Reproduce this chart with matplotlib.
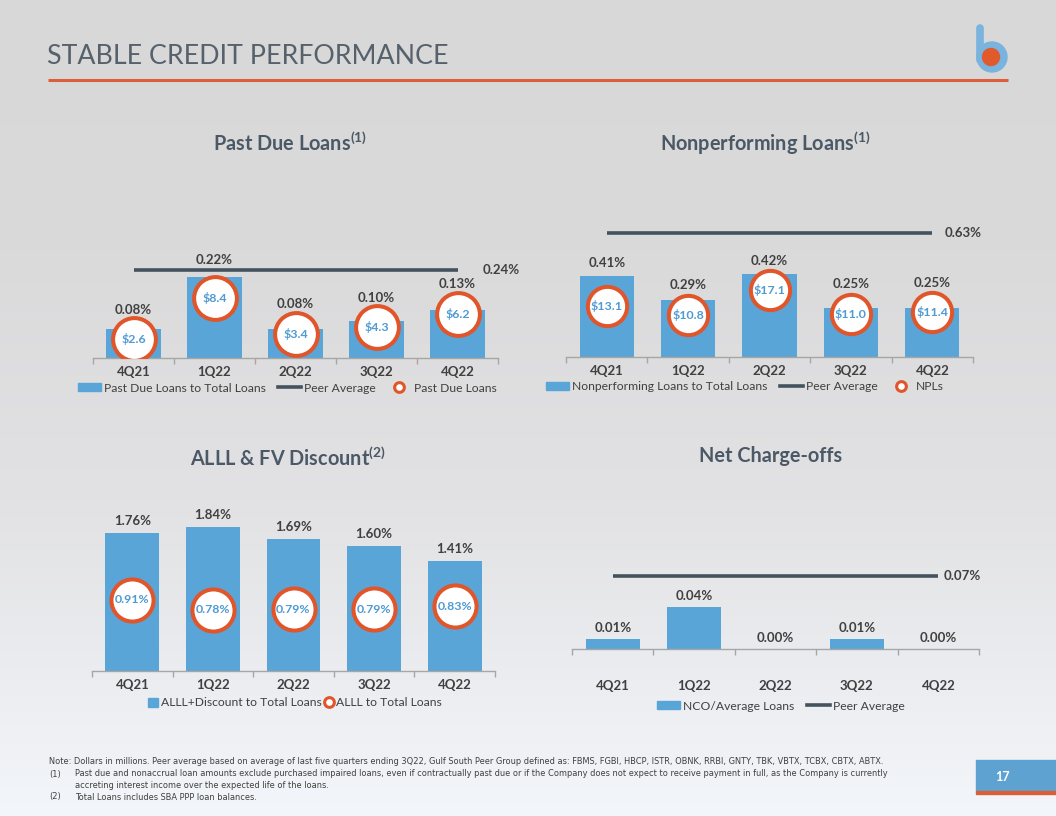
import matplotlib
matplotlib.use("Agg")
import matplotlib.pyplot as plt
import numpy as np
from matplotlib.patches import Rectangle, Circle, Patch
from matplotlib.lines import Line2D

plt.rcParams['font.family'] = ['Lato', 'DejaVu Sans']
plt.rcParams['mathtext.fontset'] = 'custom'
plt.rcParams['mathtext.rm'] = 'Lato'
plt.rcParams['mathtext.bf'] = 'Lato:bold'
plt.rcParams['mathtext.default'] = 'bf'

quarters = ['4Q21', '1Q22', '2Q22', '3Q22', '4Q22']
past_due_ratio = [0.08, 0.22, 0.08, 0.10, 0.13]
past_due_peer = 0.24
past_due_amt = [2.6, 8.4, 3.4, 4.3, 6.2]
npl_ratio = [0.41, 0.29, 0.42, 0.25, 0.25]
npl_peer = 0.63
npl_amt = [13.1, 10.8, 17.1, 11.0, 11.4]
alll_disc_ratio = [1.76, 1.84, 1.69, 1.60, 1.41]
alll_ratio = [0.91, 0.78, 0.79, 0.79, 0.83]
nco_ratio = [0.01, 0.04, 0.00, 0.01, 0.00]
nco_peer = 0.07

BLUE = '#5aa5d8'
ORANGE = '#e0552a'
PEER = '#44525e'
LABEL = '#404040'
TITLE = '#4b5866'
CIRCLE_TXT = '#4f9ad2'
AXIS = '#a6a6a6'

W, H = 1056, 816
fig = plt.figure(figsize=(W / 100, H / 100), dpi=100)

# fondo con degradado y decoracion de la lamina
bg = fig.add_axes([0, 0, 1, 1])
bg.set_xlim(0, W)
bg.set_ylim(H, 0)
bg.axis('off')
rows = np.arange(H)
stops_y = [0, 250, 500, 650, 816]
r = np.interp(rows, stops_y, [216, 218, 226, 234, 243])
g = np.interp(rows, stops_y, [216, 218, 226, 235, 246])
b = np.interp(rows, stops_y, [216, 219, 228, 238, 250])
img = np.stack([r, g, b], axis=1)[:, None, :].repeat(2, axis=1) / 255.0
bg.imshow(img, extent=(0, W, H, 0), aspect='auto', zorder=0)

bg.text(47, 56, 'STABLE CREDIT PERFORMANCE', fontsize=19.3, fontweight='normal',
        color='#56616c', va='center', ha='left')
bg.plot([48, 1008], [80, 80], color='#d9603b', lw=2.2, solid_capstyle='butt')

# logo
bg.plot([979.5, 979.5], [28, 60], color='#7ab3dd', lw=5.5, solid_capstyle='round')
bg.add_patch(Circle((992, 57), 15, color='#7ab3dd', zorder=3))
bg.add_patch(Circle((991, 57), 8.5, color='#e05a2b', zorder=4))

# numero de pagina
bg.add_patch(Rectangle((976, 760), 80, 31, color='#5ea2d2', zorder=3))
bg.add_patch(Rectangle((976, 791), 80, 3, color='#d95f36', zorder=3))
bg.text(1002.5, 777, '17', fontsize=9, fontweight='bold', color='white',
        ha='center', va='center', zorder=4)

# notas al pie
note_font = ['Liberation Sans Narrow', 'DejaVu Sans']
nfs = 5.95
bg.text(49, 762, 'Note: Dollars in millions. Peer average based on average of last five quarters ending 3Q22, '
        'Gulf South Peer Group defined as: FBMS, FGBI, HBCP, ISTR, OBNK, RRBI, GNTY, TBK, VBTX, TCBX, CBTX, ABTX.',
        fontsize=nfs, family=note_font, color=LABEL, va='center')
bg.text(49, 774, '(1)', fontsize=nfs, family=note_font, color=LABEL, va='center')
bg.text(75, 774, 'Past due and nonaccrual loan amounts exclude purchased impaired loans, even if contractually past due '
        'or if the Company does not expect to receive payment in full, as the Company is currently',
        fontsize=nfs, family=note_font, color=LABEL, va='center')
bg.text(75, 786, 'accreting interest income over the expected life of the loans.',
        fontsize=nfs, family=note_font, color=LABEL, va='center')
bg.text(49, 797, '(2)', fontsize=nfs, family=note_font, color=LABEL, va='center')
bg.text(75, 797, 'Total Loans includes SBA PPP loan balances.',
        fontsize=nfs, family=note_font, color=LABEL, va='center')


def px_ax(x0, y0, x1, y1):
    return fig.add_axes([x0 / W, 1 - y1 / H, (x1 - x0) / W, (y1 - y0) / H])


def base_chart(ax, ratio, top, offsets_px, tick_pad):
    x = np.arange(len(quarters))
    ax.bar(x, ratio, width=0.667, color=BLUE, zorder=2)
    ax.set_xlim(-0.5, 4.5)
    ax.set_ylim(0, top)
    ax.patch.set_alpha(0)
    for s in ['top', 'right', 'left']:
        ax.spines[s].set_visible(False)
    ax.spines['bottom'].set_color(AXIS)
    ax.spines['bottom'].set_linewidth(1)
    ax.set_yticks([])
    ax.set_xticks(x)
    ax.set_xticklabels(quarters, fontsize=9.5, fontweight='bold', color=LABEL)
    ax.tick_params(axis='x', which='major', length=0, pad=tick_pad)
    ax.set_xticks(np.arange(-0.5, 5, 1), minor=True)
    ax.tick_params(axis='x', which='minor', length=4, color=AXIS, width=1)
    for xi, v, off in zip(x, ratio, offsets_px):
        ax.annotate(f'{v:.2f}%', (xi, v), xytext=(0, off * 0.72), textcoords='offset points',
                    ha='center', va='center', fontsize=9.5, fontweight='bold', color=LABEL)
    return x


def label_offsets(ratio, ppu, amt=None, ppu2=None, radius=0, above_bar=12, above_circle=9):
    # sube la etiqueta por encima del circulo cuando este sobresale
    offs = []
    for i, v in enumerate(ratio):
        bar_px = v * ppu
        off = above_bar
        if amt is not None:
            circ_top = amt[i] * ppu2 + radius
            off = max(off, circ_top + above_circle - bar_px)
        offs.append(off)
    return offs


def peer_line(ax, peer, gap):
    ax.plot([0, 4], [peer, peer], color=PEER, lw=2.6, solid_capstyle='butt', zorder=3)
    ax.annotate(f'{peer:.2f}%', (4, peer), xytext=(gap, 0), textcoords='offset points',
                ha='left', va='center', fontsize=9.5, fontweight='bold', color=LABEL)


def circles(ax, x, vals, size, texts):
    ax.scatter(x, vals, s=size, facecolor='white', edgecolor=ORANGE, linewidth=2.9, zorder=4)
    for xi, v, t in zip(x, vals, texts):
        ax.text(xi, v, t, ha='center', va='center', fontsize=8.9, fontweight='bold',
                color=CIRCLE_TXT, zorder=5)


def hide_twin(ax2):
    ax2.patch.set_alpha(0)
    for s in ax2.spines.values():
        s.set_visible(False)
    ax2.set_yticks([])


bar_h = Patch(color=BLUE)
peer_h = Line2D([], [], color=PEER, lw=2.6)
circ_h = Line2D([], [], marker='o', ls='none', mfc='white', mec=ORANGE, mew=2.2, ms=7)


def legend(handles, labels, cx, cy, **kw):
    opts = dict(loc='center', bbox_to_anchor=(cx / W, 1 - cy / H), ncol=len(handles),
                frameon=False, fontsize=8.7, handlelength=1.9, handleheight=0.6,
                handletextpad=0.25, columnspacing=1.0, borderaxespad=0, borderpad=0)
    opts.update(kw)
    leg = fig.legend(handles, labels, **opts)
    for t in leg.get_texts():
        t.set_color(LABEL)


# Past Due Loans
ax1 = px_ax(93, 200, 498, 357.7)
offs = label_offsets(past_due_ratio, 365, past_due_amt, 7.1, 21.5, above_bar=17, above_circle=8)
x = base_chart(ax1, past_due_ratio, 157.7 / 365, offs, 6)
peer_line(ax1, past_due_peer, 18)
ax1b = ax1.twinx()
ax1b.set_ylim(0, 157.7 / 7.1)
hide_twin(ax1b)
circles(ax1b, x, past_due_amt, 950, [f'\\${v:.1f}' for v in past_due_amt])
fig.text(290 / W, 1 - 143 / H, 'Past Due Loans$^{(1)}$', fontsize=14.3, fontweight='bold',
         color=TITLE, ha='center', va='center')
legend([bar_h, peer_h, circ_h], ['Past Due Loans to Total Loans', 'Peer Average', 'Past Due Loans'],
       287.5, 388)

# Nonperforming Loans
ax2 = px_ax(566, 200, 973, 356.7)
offs = label_offsets(npl_ratio, 196, npl_amt, 3.9, 19.5, above_bar=13, above_circle=10)
x = base_chart(ax2, npl_ratio, 156.7 / 196, offs, 6)
peer_line(ax2, npl_peer, 8.6)
ax2b = ax2.twinx()
ax2b.set_ylim(0, 156.7 / 3.9)
hide_twin(ax2b)
circles(ax2b, x, npl_amt, 800, [f'\\${v:.1f}' for v in npl_amt])
fig.text(765 / W, 1 - 143 / H, 'Nonperforming Loans$^{(1)}$', fontsize=14.3, fontweight='bold',
         color=TITLE, ha='center', va='center')
legend([bar_h, peer_h, circ_h], ['Nonperforming Loans to Total Loans', 'Peer Average', 'NPLs'],
       745, 387)

# ALLL & FV Discount
ax3 = px_ax(92, 500, 495, 671)
x = base_chart(ax3, alll_disc_ratio, 171 / 78.3, label_offsets(alll_disc_ratio, 78.3), 6)
circles(ax3, x, alll_ratio, 920, [f'{v:.2f}%' for v in alll_ratio])
fig.text(288 / W, 1 - 458 / H, 'ALLL & FV Discount$^{(2)}$', fontsize=14.3, fontweight='bold',
         color=TITLE, ha='center', va='center')
legend([bar_h, circ_h], ['ALLL+Discount to Total Loans', 'ALLL to Total Loans'],
       295, 703, handlelength=0.8, handleheight=0.8, columnspacing=0.2)

# Net Charge-offs
ax4 = px_ax(572, 540, 979, 649)
x = base_chart(ax4, nco_ratio, 109 / 1040, label_offsets(nco_ratio, 1040, above_bar=11), 22)
peer_line(ax4, nco_peer, 3.6)
fig.text(771 / W, 1 - 456 / H, 'Net Charge-offs', fontsize=14.3, fontweight='bold',
         color=TITLE, ha='center', va='center')
legend([bar_h, peer_h], ['NCO/Average Loans', 'Peer Average'], 781, 706)

fig.savefig('out.png', dpi=100)
